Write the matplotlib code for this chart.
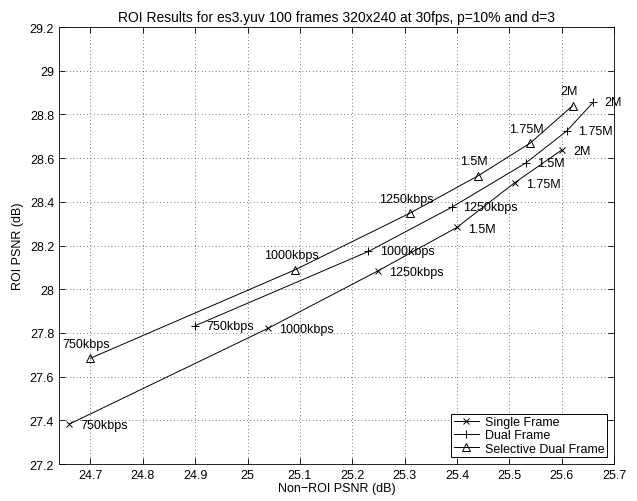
import matplotlib
matplotlib.use("Agg")
from matplotlib import pyplot as plt

plt.rcParams['font.family'] = ['Liberation Sans', 'DejaVu Sans']
plt.rcParams['font.size'] = 9

# non-ROI PSNR / ROI PSNR at each bitrate
single_x = [24.66, 25.04, 25.25, 25.40, 25.51, 25.60]
single_y = [27.383, 27.822, 28.085, 28.283, 28.487, 28.637]
single_lbl = ['750kbps', '1000kbps', '1250kbps', '1.5M', '1.75M', '2M']

dual_x = [24.90, 25.231, 25.390, 25.531, 25.61, 25.66]
dual_y = [27.833, 28.173, 28.375, 28.577, 28.725, 28.855]
dual_lbl = ['750kbps', '1000kbps', '1250kbps', '1.5M', '1.75M', '2M']

sel_x = [24.70, 25.091, 25.311, 25.441, 25.54, 25.621]
sel_y = [27.684, 28.089, 28.349, 28.52, 28.669, 28.84]
sel_lbl = ['750kbps', '1000kbps', '1250kbps', '1.5M', '1.75M', '2M']

fig = plt.figure(figsize=(6.37, 5.02), dpi=100)
ax = fig.add_axes([0.0926, 0.0737, 0.8714, 0.8705])

ax.plot(single_x, single_y, 'k-', marker='x', ms=4.5, mew=0.7, lw=0.7,
        label='Single Frame')
ax.plot(dual_x, dual_y, 'k-', marker='+', ms=6, mew=0.7, lw=0.7,
        label='Dual Frame')
ax.plot(sel_x, sel_y, 'k-', marker='^', ms=6, mfc='none', mew=0.7, lw=0.7,
        label='Selective Dual Frame')

for x, y, s in zip(single_x, single_y, single_lbl):
    ax.annotate(s, (x, y), xytext=(8, -1), textcoords='offset points',
                ha='left', va='center')
for x, y, s in zip(dual_x, dual_y, dual_lbl):
    ax.annotate(s, (x, y), xytext=(8, 0), textcoords='offset points',
                ha='left', va='center')
for x, y, s in zip(sel_x, sel_y, sel_lbl):
    ax.annotate(s, (x, y), xytext=(-3, 6), textcoords='offset points',
                ha='center', va='bottom')

ax.set_xlim(24.64, 25.7)
ax.set_ylim(27.2, 29.2)
ax.set_xticks([24.7, 24.8, 24.9, 25.0, 25.1, 25.2, 25.3, 25.4, 25.5, 25.6, 25.7])
ax.set_xticklabels(['24.7', '24.8', '24.9', '25', '25.1', '25.2', '25.3', '25.4',
                    '25.5', '25.6', '25.7'])
ax.set_yticks([27.2, 27.4, 27.6, 27.8, 28.0, 28.2, 28.4, 28.6, 28.8, 29.0, 29.2])
ax.set_yticklabels(['27.2', '27.4', '27.6', '27.8', '28', '28.2', '28.4', '28.6',
                    '28.8', '29', '29.2'])
ax.tick_params(direction='in', length=4, width=0.6, top=True, right=True)
ax.grid(True, ls=(0, (1, 4)), color='k', lw=0.5)
for sp in ax.spines.values():
    sp.set_linewidth(0.6)

ax.set_title('ROI Results for es3.yuv 100 frames 320x240 at 30fps, p=10% and d=3',
             fontsize=10, pad=4)
ax.set_xlabel('Non\u2212ROI PSNR (dB)', labelpad=1)
ax.set_ylabel('ROI PSNR (dB)', labelpad=4)

leg = ax.legend(loc='lower right', fancybox=False, edgecolor='k', framealpha=1,
                borderaxespad=0.55, handlelength=2.0, borderpad=0.2,
                labelspacing=0.1, handletextpad=0.5)
leg.get_frame().set_linewidth(0.7)

fig.savefig('out.png', dpi=100)
